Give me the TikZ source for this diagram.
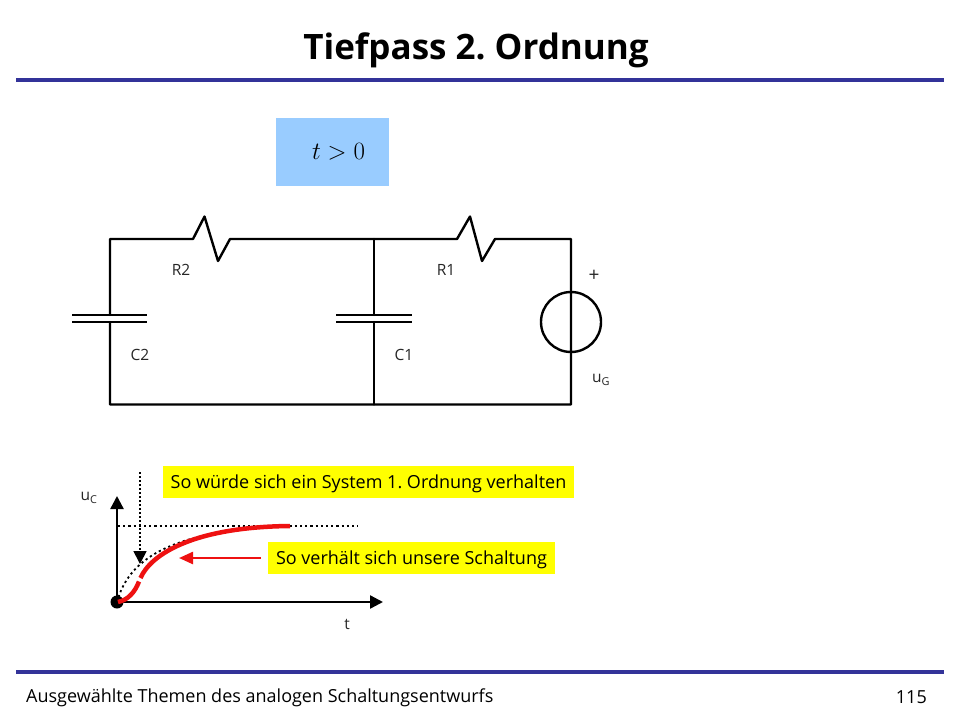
\documentclass[tikz,border=0pt]{standalone}
\usepackage{fontspec}
\setmainfont{Open Sans}
\frenchspacing
\usetikzlibrary{arrows.meta}
\definecolor{rulec}{HTML}{333399}
\definecolor{boxc}{HTML}{99CCFF}
\definecolor{yel}{HTML}{FFFF00}
\definecolor{redc}{HTML}{EE1111}
\tikzset{
  x=1pt,y=-1pt,
  wire/.style={line width=2.4pt,line join=round,line cap=round},
  rulel/.style={line width=4pt,rulec},
  lbl/.style={font=\fontsize{15.5}{17}\selectfont,text=black!85,inner sep=0pt,anchor=center},
  note/.style={fill=yel,font=\fontsize{18}{20}\selectfont,inner sep=0pt,anchor=center,minimum height=32pt},
  dots/.style={line width=2.2pt,dash pattern=on 2.2pt off 3pt},
  tip/.style={-{Triangle[length=13pt,width=13pt]}},
}
\begin{document}
\begin{tikzpicture}
\useasboundingbox[fill=white] (0,0) rectangle (960,720);
% rules and headings
\coordinate (tl) at (16,80); \coordinate (tr) at (944,80);
\coordinate (bl) at (16,672); \coordinate (br) at (944,672);
\draw[rulel] (tl) -- (tr);
\draw[rulel] (bl) -- (br);
\node[font=\bfseries\fontsize{35}{38}\selectfont] (title) at (476,50) {Tiefpass 2. Ordnung};
\node[font=\fontsize{18}{20}\selectfont,anchor=west,inner sep=0pt] (foot) at (26,697.5) {Ausgewählte Themen des analogen Schaltungsentwurfs};
\node[font=\fontsize{18}{20}\selectfont,anchor=east,inner sep=0pt] (page) at (927,697.5) {115};
% condition box
\node[fill=boxc,minimum width=113pt,minimum height=68pt,inner sep=0pt,font=\fontsize{23}{25}\selectfont] (cond) at (332.5,152) {\hspace{12pt}$t>0$};
% circuit points
\coordinate (tlc) at (110,239); \coordinate (blc) at (110,404.5);
\coordinate (tm) at (374,239); \coordinate (bm) at (374,404.5);
\coordinate (trc) at (571,239); \coordinate (brc) at (571,404.5);
\coordinate (c2t) at (110,315); \coordinate (c2b) at (110,322);
\coordinate (c1t) at (374,315); \coordinate (c1b) at (374,322);
\coordinate (r2a) at (193,239); \coordinate (r2b) at (230,239);
\coordinate (r1a) at (457,239); \coordinate (r1b) at (495,239);
% wires
\draw[wire] (c2t) -- (tlc) -- (r2a) -- (204.5,216.5) -- (218,261) -- (r2b) -- (tm) -- (r1a) -- (470,216.5) -- (482,261) -- (r1b) -- (trc) -- (brc) -- (bm) -- (blc) -- (c2b);
\draw[wire] (tm) -- (c1t);
\draw[wire] (c1b) -- (bm);
% capacitors
\draw[wire,line cap=butt] (72,315) -- (147,315) (72,322) -- (147,322);
\draw[wire,line cap=butt] (336,315) -- (412,315) (336,322) -- (412,322);
% source
\node[draw,line width=2.4pt,circle,minimum size=60pt,inner sep=0pt] (src) at (571,322) {};
% labels
\node[lbl] (lr2) at (181,270) {R2};
\node[lbl] (lr1) at (446,270) {R1};
\node[lbl] (lc2) at (140,354.5) {C2};
\node[lbl] (lc1) at (404,354.5) {C1};
\node[lbl,font=\fontsize{19}{20}\selectfont] (lplus) at (594,276) {+};
\node[lbl] (lug) at (601,380) {u\textsubscript{G}};
% plot
\coordinate (o) at (117,602);
\coordinate (yt) at (117,496); \coordinate (xt) at (383,602);
\coordinate (dl) at (118,526); \coordinate (dr) at (358,526);
\coordinate (va) at (140,472); \coordinate (vb) at (140,564);
\draw[dots] (dl) -- (dr);
\draw[line width=1.8pt,dash pattern=on 2pt off 2pt,tip] (va) -- (vb);
\draw[dots,line width=1.8pt] (o) .. controls (128,562) and (165,530) .. (290,526);
\draw[line width=2.4pt,tip] (o) -- (yt);
\draw[line width=2.4pt,tip] (o) -- (xt);
\fill[black] (o) circle (6.5);
\draw[redc,line width=4.5pt] (118,602) .. controls (128,600) and (135,592) .. (139,581.5);
\draw[redc,line width=4.5pt] (140.5,578) .. controls (150,556) and (190,527) .. (290,526);
\node[note,minimum width=411pt] (n1) at (368.5,482) {\raisebox{-6.5pt}[0pt][0pt]{So würde sich ein System 1. Ordnung verhalten}};
\node[note,minimum width=287pt] (n2) at (411.5,558) {\raisebox{-6.5pt}[0pt][0pt]{So verhält sich unsere Schaltung}};
\coordinate (ar) at (179,558);
\draw[redc,line width=2.4pt,-{Triangle[length=14pt,width=12pt]}] (n2.west) ++(-7,0) -- (ar);
\node[lbl] (lu) at (89,498) {u\textsubscript{C}};
\node[lbl] (lt) at (347,624) {t};
\end{tikzpicture}
\end{document}
